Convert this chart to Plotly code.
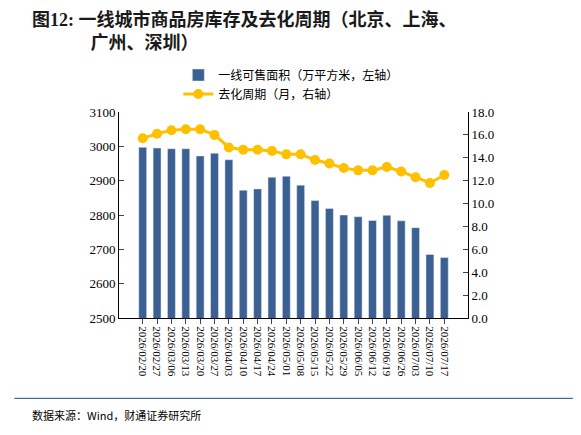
import plotly.graph_objects as go

dates = ["2026/02/20","2026/02/27","2026/03/06","2026/03/13","2026/03/20","2026/03/27","2026/04/03","2026/04/10","2026/04/17","2026/04/24","2026/05/01","2026/05/08","2026/05/15","2026/05/22","2026/05/29","2026/06/05","2026/06/12","2026/06/19","2026/06/26","2026/07/03","2026/07/10","2026/07/17"]
area = [2997,2995,2993,2993,2972,2980,2961,2872,2876,2910,2913,2887,2842,2819,2800,2795,2784,2799,2783,2763,2685,2676]
cycle = [15.7,16.1,16.4,16.5,16.5,16.0,14.9,14.7,14.7,14.6,14.3,14.3,13.8,13.5,13.1,12.9,12.9,13.2,12.8,12.3,11.8,12.5]

F = "Noto Sans CJK SC"
S = "Liberation Serif, " + F
fig = go.Figure()
fig.add_trace(go.Bar(x=dates, y=area, name="一线可售面积（万平方米，左轴）", marker_color="#3B6091", width=0.55))
fig.add_trace(go.Scatter(x=dates, y=cycle, name="去化周期（月，右轴）", yaxis="y2", mode="lines+markers",
                         line=dict(color="#FFC000", width=3), marker=dict(size=10, color="#FFC000")))
fig.update_layout(
    width=581, height=435, plot_bgcolor="white", paper_bgcolor="white",
    margin=dict(l=111, r=121, t=104, b=125, autoexpand=False),
    font=dict(family=S, size=13, color="black"),
    showlegend=True,
    legend=dict(x=0.17, y=1.25, xanchor="left", yanchor="top", bgcolor="rgba(0,0,0,0)",
                font=dict(family=F, size=12), tracegroupgap=0),
    xaxis=dict(tickangle=90, showline=True, linecolor="black", ticks="outside", tickfont=dict(size=11),
               type="category", automargin=False, tickmode="array", tickvals=dates, ticktext=dates),
    yaxis=dict(range=[2500, 3100], dtick=100, showline=True, linecolor="black", ticks="inside",
               showgrid=False, zeroline=False, automargin=False),
    yaxis2=dict(range=[0, 18], dtick=2, tickformat=".1f", overlaying="y", side="right", showline=True,
                linecolor="black", ticks="inside", showgrid=False, zeroline=False, automargin=False),
)
fig.add_annotation(xref="paper", yref="paper", x=-0.255, y=1.51, xanchor="left", yanchor="top", showarrow=False,
                   align="left", text="<b>图12: 一线城市商品房库存及去化周期（北京、上海、<br>　　　 广州、深圳）</b>",
                   font=dict(family=S, size=18, color="#1a1a1a"))
fig.add_shape(type="line", xref="paper", yref="paper", x0=-0.3, x1=1.4, y0=-0.39, y1=-0.39,
              line=dict(color="#1F4E79", width=1))
fig.add_annotation(xref="paper", yref="paper", x=-0.255, y=-0.42, xanchor="left", yanchor="top", showarrow=False,
                   text="数据来源：Wind，财通证券研究所", font=dict(family=F, size=11))
fig.write_html("out.html")
